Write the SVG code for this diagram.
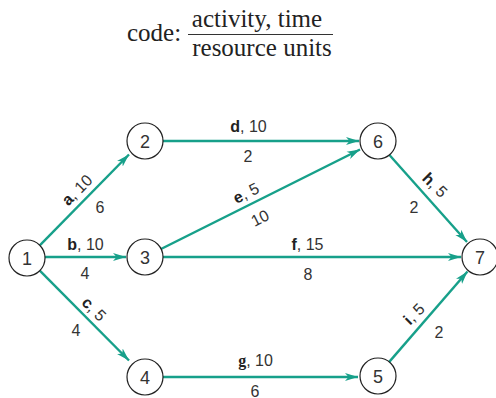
<svg xmlns="http://www.w3.org/2000/svg" width="496" height="398" viewBox="0 0 496 398">
<style>
.node circle{fill:#fff;stroke:#222;stroke-width:1.2}
.node text{font-family:"Liberation Sans",Arial,sans-serif;font-size:18px;fill:#333;text-anchor:middle}
.edges line{stroke:#17a08a;stroke-width:2.4;marker-end:url(#arr)}
.lbl{font-family:"Liberation Sans",Arial,sans-serif;font-size:16px;fill:#333;text-anchor:middle}
.lbl .b{font-weight:bold;fill:#222}
.title{font-family:"Liberation Serif","Times New Roman",serif;font-size:25px;fill:#222}
</style>
<defs>
<marker id="arr" markerUnits="userSpaceOnUse" markerWidth="13" markerHeight="9" viewBox="0 0 13 9" refX="13" refY="4.5" orient="auto">
<path d="M0,0.5 L13,4.5 L0,8.5 L3.5,4.5 z" fill="#17a08a"/>
</marker>
</defs>
<rect width="496" height="398" fill="#fff"/>
<g id="legend">
<text class="title" x="127" y="41">code:</text>
<text class="title" x="257" y="27" text-anchor="middle">activity, time</text>
<line x1="188" y1="34.5" x2="333" y2="34.5" stroke="#333" stroke-width="1.2"/>
<text class="title" x="262" y="56" text-anchor="middle">resource units</text>
</g>
<g class="edges" id="connectors">
<line x1="39.8" y1="245.4" x2="129" y2="154.5"/>
<line x1="45" y1="257" x2="126" y2="257"/>
<line x1="39.8" y1="270.6" x2="129" y2="360.5"/>
<line x1="163" y1="141" x2="359" y2="141"/>
<line x1="161" y1="249" x2="360" y2="149.5"/>
<line x1="163" y1="257" x2="461" y2="257"/>
<line x1="389" y1="154.5" x2="467" y2="242"/>
<line x1="163" y1="377" x2="358" y2="377"/>
<line x1="388.8" y1="362.4" x2="467.5" y2="271.5"/>
</g>
<g id="n1" class="node"><circle cx="27" cy="258" r="18"/><text x="27" y="264.5">1</text></g>
<g id="n2" class="node"><circle cx="145" cy="141" r="18"/><text x="145" y="147.5">2</text></g>
<g id="n3" class="node"><circle cx="145" cy="257" r="18"/><text x="145" y="263.5">3</text></g>
<g id="n4" class="node"><circle cx="145" cy="377" r="18"/><text x="145" y="383.5">4</text></g>
<g id="n5" class="node"><circle cx="378" cy="376" r="18"/><text x="378" y="382.5">5</text></g>
<g id="n6" class="node"><circle cx="378" cy="141" r="18"/><text x="378" y="147.5">6</text></g>
<g id="n7" class="node"><circle cx="480" cy="257" r="18"/><text x="480" y="263.5">7</text></g>
<g id="labels">
<text class="lbl" transform="translate(77,190) rotate(-45)" y="5.5"><tspan class="b">a</tspan>, 10</text>
<text class="lbl" x="100" y="213">6</text>
<text class="lbl" x="85.5" y="250"><tspan class="b">b</tspan>, 10</text>
<text class="lbl" x="85" y="279">4</text>
<text class="lbl" transform="translate(94,309) rotate(45)" y="5.5"><tspan class="b">c</tspan>, 5</text>
<text class="lbl" x="76" y="336">4</text>
<text class="lbl" x="248.5" y="132"><tspan class="b">d</tspan>, 10</text>
<text class="lbl" x="248" y="162">2</text>
<text class="lbl" transform="translate(246,193) rotate(-26.6)" y="5.5"><tspan class="b">e</tspan>, 5</text>
<text class="lbl" transform="translate(260,218) rotate(-26.6)" y="5.5">10</text>
<text class="lbl" x="307.5" y="250"><tspan class="b">f</tspan>, 15</text>
<text class="lbl" x="308" y="280">8</text>
<text class="lbl" x="255.5" y="366"><tspan class="b" style="font-family:'Liberation Serif',serif">g</tspan>, 10</text>
<text class="lbl" x="255" y="396.5">6</text>
<text class="lbl" transform="translate(435,185) rotate(45)" y="5.5"><tspan class="b">h</tspan>, 5</text>
<text class="lbl" x="414" y="213">2</text>
<text class="lbl" transform="translate(414,314) rotate(-45)" y="5.5"><tspan class="b">i</tspan>, 5</text>
<text class="lbl" x="439" y="338">2</text>
</g>
</svg>
